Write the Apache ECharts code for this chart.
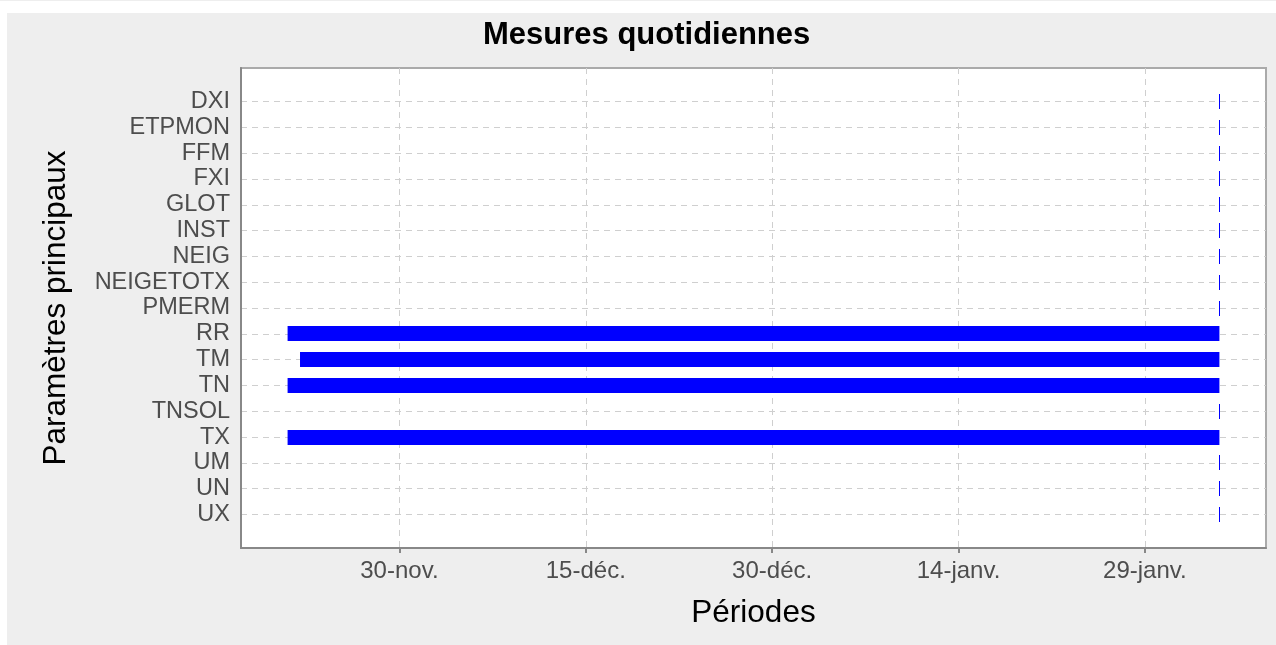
<!DOCTYPE html>
<html>
<head>
<meta charset="utf-8">
<title>Mesures quotidiennes</title>
<script src="https://cdn.jsdelivr.net/npm/echarts@6/dist/echarts.min.js"></script>
<style>
  html, body { margin: 0; padding: 0; background: #fff; }
  #panel {
    position: absolute; left: 7px; top: 13px; right: 0; bottom: 0;
    background: #eeeeee;
  }
  #topline { position: absolute; left: 0; top: 0; width: 100%; height: 1px; background: #eeeeee; }
  #mesure-echart-box {
    position: absolute; left: 0; top: 0;
    width: 1276px; height: 645px;
  }
</style>
</head>
<body>
<div id="topline"></div>
<div id="panel"></div>
<div id="mesure-echart-box"></div>
<script>
// parametres (de haut en bas)
const paramList = ['DXI', 'ETPMON', 'FFM', 'FXI', 'GLOT', 'INST', 'NEIG', 'NEIGETOTX',
  'PMERM', 'RR', 'TM', 'TN', 'TNSOL', 'TX', 'UM', 'UN', 'UX'];
// debut / fin des periodes de mesure (debut == fin : aucune donnee)
const startList = ['2024-02-04', '2024-02-04', '2024-02-04', '2024-02-04', '2024-02-04', '2024-02-04',
  '2024-02-04', '2024-02-04', '2024-02-04', '2023-11-21', '2023-11-22', '2023-11-21',
  '2024-02-04', '2023-11-21', '2024-02-04', '2024-02-04', '2024-02-04'];
const endList = ['2024-02-04', '2024-02-04', '2024-02-04', '2024-02-04', '2024-02-04', '2024-02-04',
  '2024-02-04', '2024-02-04', '2024-02-04', '2024-02-04', '2024-02-04', '2024-02-04',
  '2024-02-04', '2024-02-04', '2024-02-04', '2024-02-04', '2024-02-04'];
// graduations de l'axe des dates
const tickDates = ['2023-11-30', '2023-12-15', '2023-12-30', '2024-01-14', '2024-01-29'];
const tickLabels = ['30-nov.', '15-déc.', '30-déc.', '14-janv.', '29-janv.'];

const toDay = s => Date.parse(s + 'T00:00:00Z') / 86400000;

const startDays = startList.map(toDay);
const endDays = endList.map(toDay);
const tickDays = tickDates.map(toDay);
const dMin = Math.min(...startDays), dMax = Math.max(...endDays);
const pad = (dMax - dMin) * 0.05;

const seriesData = paramList.map((p, i) => [startDays[i], endDays[i], i]);

const fontName = "'Liberation Sans', Arial, sans-serif";
const dashed = { color: '#cfcfcf', width: 1, type: [6, 5] };

const chartObj = echarts.init(document.getElementById('mesure-echart-box'));
const option = {
  backgroundColor: 'transparent',
  animation: false,
  textStyle: { fontFamily: fontName },
  title: {
    text: 'Mesures quotidiennes',
    left: 483,
    top: 20,
    padding: 0,
    textStyle: { fontFamily: fontName, fontSize: 31, fontWeight: 'bold', color: '#000' }
  },
  grid: {
    left: 241, top: 68, right: 10, bottom: 97,
    show: true, backgroundColor: '#fff', borderColor: '#aaaaaa', borderWidth: 2,
    outerBoundsMode: 'none'
  },
  xAxis: {
    type: 'value',
    min: dMin - pad,
    max: dMax + pad,
    name: 'Périodes',
    nameLocation: 'middle',
    nameGap: 49,
    nameTextStyle: { fontFamily: fontName, fontSize: 31.5, color: '#000' },
    axisLine: { onZero: false, lineStyle: { color: '#888', width: 2 } },
    axisTick: { show: true, length: 5, customValues: tickDays, lineStyle: { color: '#888', width: 2 } },
    axisLabel: {
      customValues: tickDays,
      margin: 11,
      fontSize: 24,
      color: '#4d4d4d',
      formatter: v => tickLabels[tickDays.indexOf(v)] || ''
    },
    splitLine: { show: true, lineStyle: dashed }
  },
  yAxis: {
    type: 'value',
    inverse: true,
    min: -1.3,
    max: 17.3,
    name: 'Paramètres principaux',
    nameLocation: 'middle',
    nameRotate: 90,
    nameGap: 169,
    nameTextStyle: { fontFamily: fontName, fontSize: 31.5, color: '#000' },
    axisLine: { show: true, onZero: false, lineStyle: { color: '#888', width: 2 } },
    axisTick: { show: false, customValues: paramList.map((p, i) => i) },
    axisLabel: {
      customValues: paramList.map((p, i) => i),
      margin: 11,
      fontSize: 23.5,
      color: '#4d4d4d',
      formatter: v => paramList[v] || ''
    },
    splitLine: { show: true, lineStyle: dashed }
  },
  series: [{
    type: 'custom',
    encode: { x: [0, 1], y: 2 },
    data: seriesData,
    renderItem(params, api) {
      const p0 = api.coord([api.value(0), api.value(2)]);
      const p1 = api.coord([api.value(1), api.value(2)]);
      const h = 15;
      const y = Math.round(p0[1] - h / 2);
      let x = p0[0], w = p1[0] - p0[0];
      if (w < 1) { x = Math.floor(p0[0]); w = 1; }
      return {
        type: 'rect',
        shape: { x: x, y: y, width: w, height: h },
        style: { fill: '#0000ff' }
      };
    }
  }]
};
chartObj.setOption(option);
</script>
</body>
</html>
